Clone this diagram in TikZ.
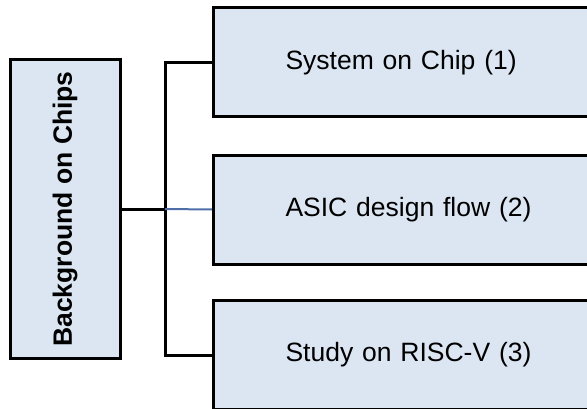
\documentclass[tikz,border=0pt]{standalone}
\usepackage{fontspec}
\setmainfont{Liberation Sans}
\definecolor{boxfill}{RGB}{220,230,242}
\definecolor{linkblue}{RGB}{79,110,168}
\tikzset{
  topicbox/.style={draw=black, line width=3pt, fill=boxfill, font=\fontsize{26.5}{30}\selectfont},
  subbox/.style={topicbox, anchor=west, minimum width=390pt, minimum height=109pt,
    text width=246pt, align=left, inner xsep=0pt},
  link/.style={line width=3pt}
}
\begin{document}
\begin{tikzpicture}[x=1pt, y=1pt]
    \clip (0, 0) rectangle (587, 408);

    % Main topic (rotated label)
    \node[topicbox, minimum width=110pt, minimum height=298pt] (bg) at (65, 199)
      {\rotatebox{90}{\bfseries Background on Chips}};

    % Sub topics
    \node[subbox] (soc) at (212, 345.5) {System on Chip (1)};
    \node[subbox] (asic) at (212, 198.5) {ASIC design flow (2)};
    \node[subbox] (riscv) at (212, 53) {Study on RISC-V (3)};

    % Connectors
    \coordinate (split) at (165, 199);
    \draw[link] (bg.east) -- (split);
    \draw[link] (soc.west) -| (split) |- (riscv.west);
    \draw[link, line width=2pt, linkblue] (split) -- (asic.west);
  \end{tikzpicture}
\end{document}
